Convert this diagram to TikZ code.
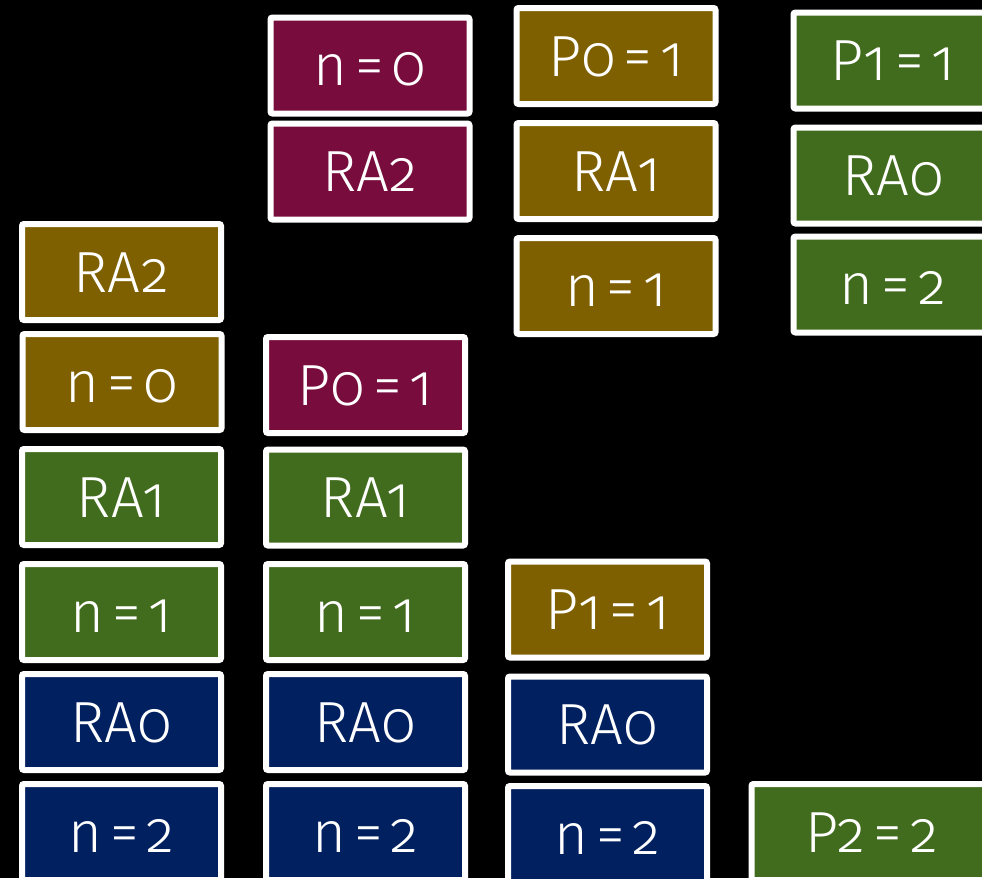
\documentclass[tikz,border=0pt]{standalone}
\usepackage{fontspec}
\setmainfont{Fira Sans Light}[Numbers=OldStyle]
\definecolor{plum}{HTML}{780C3C}
\definecolor{ochre}{HTML}{7F6000}
\definecolor{leaf}{HTML}{416B1D}
\definecolor{navy}{HTML}{002060}
% label font: large, with tighter word spaces
\newcommand\cellfont{\fontsize{58}{60}\selectfont\spaceskip=8pt\relax}
\begin{document}
\begin{tikzpicture}[x=1pt,y=-1pt,
  cell/.style={draw=white, line width=6pt, rounded corners=2pt,
    minimum width=199pt, minimum height=96pt, inner sep=0pt,
    text=white, font=\cellfont,
    text height=40pt, text depth=0pt},
  pl/.style={cell, fill=plum},
  oc/.style={cell, fill=ochre},
  lf/.style={cell, fill=leaf},
  nv/.style={cell, fill=navy}]
\fill[black] (0,0) rectangle (982,878);
\useasboundingbox (0,0) rectangle (982,878);

% first stack
\node[oc] (a1) at (121.5,272) {RA2};
\node[oc] (a2) at (122,382) {n = 0};
\node[lf] (a3) at (121.5,497) {RA1};
\node[lf] (a4) at (121.5,612) {n = 1};
\node[nv] (a5) at (121.5,722) {RA0};
\node[nv] (a6) at (121.5,832) {n = 2};

% second stack
\node[pl] (b1) at (370,65.5) {n = 0};
\node[pl] (b2) at (370,171.5) {RA2};
\node[pl] (b3) at (365.5,385) {P0 = 1};
\node[lf] (b4) at (365.5,497.5) {RA1};
\node[lf] (b5) at (365.5,612) {n = 1};
\node[nv] (b6) at (365.5,722) {RA0};
\node[nv] (b7) at (365.5,832) {n = 2};

% third stack
\node[oc] (c1) at (616,56) {P0 = 1};
\node[oc] (c2) at (616,171) {RA1};
\node[oc] (c3) at (616,286) {n = 1};
\node[oc] (c4) at (607.5,609.5) {P1 = 1};
\node[nv] (c5) at (607.5,724.5) {RA0};
\node[nv] (c6) at (607.5,834) {n = 2};

% fourth stack
\node[lf] (d1) at (893,60.5) {P1 = 1};
\node[lf] (d2) at (893,175.5) {RA0};
\node[lf] (d3) at (893,284.5) {n = 2};
\node[lf, minimum width=241pt] (d4) at (872,832) {P2 = 2};
\end{tikzpicture}
\end{document}
